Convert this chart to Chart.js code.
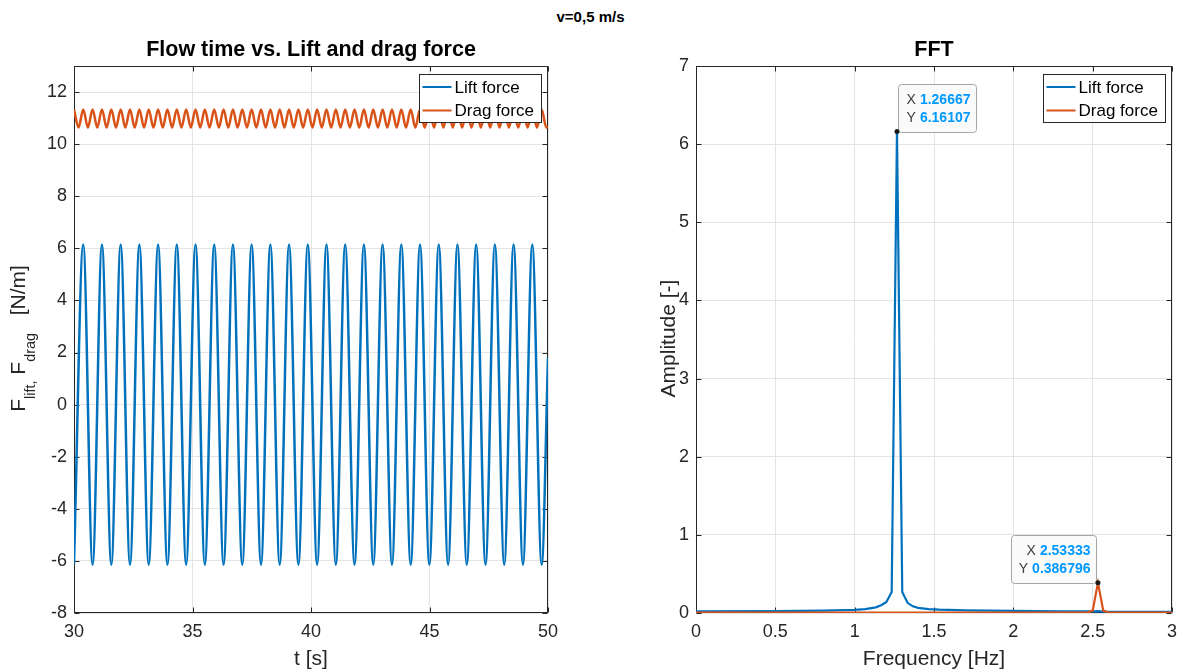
<!DOCTYPE html>
<html>
<head>
<meta charset="utf-8">
<script src="https://cdn.jsdelivr.net/npm/chart.js@4.4.1/dist/chart.umd.min.js"></script>
<style>
  html,body{margin:0;padding:0;background:#fff;}
  body{width:1181px;height:672px;position:relative;overflow:hidden;font-family:"Liberation Sans",Arial,Helvetica,sans-serif;}
  canvas{position:absolute;left:0;top:0;}
  #suptitle{position:absolute;left:0;top:8px;width:1181px;line-height:18px;text-align:center;font-weight:bold;font-size:15px;color:#000;}
</style>
</head>
<body>
<div id="suptitle">v=0,5 m/s</div>
<canvas id="timeChart" width="1181" height="672"></canvas>
<canvas id="fftChart" width="1181" height="672"></canvas>
<script>
const FONT = '"Liberation Sans", Arial, Helvetica, sans-serif';
const INK = '#262626';
const BLUE = '#0072BD', ORANGE = '#D95319';

// --- flow time signal, peaks / troughs ---
const liftTime = [30.000, 30.390, 30.784, 31.179, 31.574, 31.969, 32.363, 32.758, 33.153, 33.548,
  33.942, 34.337, 34.732, 35.127, 35.521, 35.916, 36.311, 36.706, 37.100, 37.495,
  37.890, 38.285, 38.679, 39.074, 39.469, 39.864, 40.258, 40.653, 41.048, 41.443,
  41.837, 42.232, 42.627, 43.021, 43.416, 43.811, 44.206, 44.600, 44.995, 45.390,
  45.785, 46.179, 46.574, 46.969, 47.364, 47.758, 48.153, 48.548, 48.943, 49.337,
  49.732, 50.000];
const liftForce = [-6.10,
  6.15, -6.15, 6.15, -6.15, 6.15, -6.15, 6.15, -6.15, 6.15, -6.15,
  6.15, -6.15, 6.15, -6.15, 6.15, -6.15, 6.15, -6.15, 6.15, -6.15,
  6.15, -6.15, 6.15, -6.15, 6.15, -6.15, 6.15, -6.15, 6.15, -6.15,
  6.15, -6.15, 6.15, -6.15, 6.15, -6.15, 6.15, -6.15, 6.15, -6.15,
  6.15, -6.15, 6.15, -6.15, 6.15, -6.15, 6.15, -6.15, 6.15, -6.15,
  1.80];

const dragTime = [30.000, 30.192, 30.390, 30.587, 30.784, 30.982, 31.179, 31.376, 31.574, 31.771,
  31.969, 32.166, 32.363, 32.561, 32.758, 32.955, 33.153, 33.350, 33.548, 33.745,
  33.942, 34.140, 34.337, 34.534, 34.732, 34.929, 35.127, 35.324, 35.521, 35.719,
  35.916, 36.113, 36.311, 36.508, 36.706, 36.903, 37.100, 37.298, 37.495, 37.692,
  37.890, 38.087, 38.285, 38.482, 38.679, 38.877, 39.074, 39.271, 39.469, 39.666,
  39.864, 40.061, 40.258, 40.456, 40.653, 40.850, 41.048, 41.245, 41.443, 41.640,
  41.837, 42.035, 42.232, 42.429, 42.627, 42.824, 43.021, 43.219, 43.416, 43.614,
  43.811, 44.008, 44.206, 44.403, 44.600, 44.798, 44.995, 45.192, 45.390, 45.587,
  45.785, 45.982, 46.179, 46.377, 46.574, 46.771, 46.969, 47.166, 47.364, 47.561,
  47.758, 47.956, 48.153, 48.350, 48.548, 48.745, 48.943, 49.140, 49.337, 49.535,
  49.732, 49.929, 50.000];
const dragForce = [
  11.33, 10.64, 11.33, 10.64, 11.33, 10.64, 11.33, 10.64, 11.33, 10.64,
  11.33, 10.64, 11.33, 10.64, 11.33, 10.64, 11.33, 10.64, 11.33, 10.64,
  11.33, 10.64, 11.33, 10.64, 11.33, 10.64, 11.33, 10.64, 11.33, 10.64,
  11.33, 10.64, 11.33, 10.64, 11.33, 10.64, 11.33, 10.64, 11.33, 10.64,
  11.33, 10.64, 11.33, 10.64, 11.33, 10.64, 11.33, 10.64, 11.33, 10.64,
  11.33, 10.64, 11.33, 10.64, 11.33, 10.64, 11.33, 10.64, 11.33, 10.64,
  11.33, 10.64, 11.33, 10.64, 11.33, 10.64, 11.33, 10.64, 11.33, 10.64,
  11.33, 10.64, 11.33, 10.64, 11.33, 10.64, 11.33, 10.64, 11.33, 10.64,
  11.33, 10.64, 11.33, 10.64, 11.33, 10.64, 11.33, 10.64, 11.33, 10.64,
  11.33, 10.64, 11.33, 10.64, 11.33, 10.64, 11.33, 10.64, 11.33, 10.64,
  11.33, 10.64, 10.67];

const timeTicks = [30, 35, 40, 45, 50];
const forceTicks = [-8, -6, -4, -2, 0, 2, 4, 6, 8, 10, 12];

// --- FFT ---
const liftFreq = [0, 0.5, 0.8, 1.0, 1.0667, 1.1333, 1.1667, 1.2, 1.2333, 1.26667, 1.3, 1.3333,
  1.3667, 1.4, 1.4667, 1.5333, 1.7, 2.0, 2.3, 2.5, 2.5333, 2.5667, 3.0];
const liftAmp = [0.02, 0.024, 0.03, 0.04, 0.05, 0.072, 0.10, 0.14, 0.27, 6.16107, 0.27, 0.13,
  0.085, 0.065, 0.05, 0.042, 0.033, 0.026, 0.022, 0.02, 0.024, 0.018, 0.015];
const dragFreq = [0, 2.4667, 2.5, 2.53333, 2.5667, 2.6, 3.0];
const dragAmp = [0.006, 0.006, 0.03, 0.386796, 0.03, 0.006, 0.005];

const freqTicks = [0, 0.5, 1, 1.5, 2, 2.5, 3];
const ampTicks = [0, 1, 2, 3, 4, 5, 6, 7];

const seriesNames = ['Lift force', 'Drag force'];
const dataTips = [
  { x: 1.26667, y: 6.16107, xs: '1.26667', ys: '6.16107', side: 'right', w: 78 },
  { x: 2.53333, y: 0.386796, xs: '2.53333', ys: '0.386796', side: 'left', w: 85 }
];

const pts = (xs, ys) => xs.map((v, i) => ({ x: v, y: ys[i] }));

// MATLAB-ish box + inward ticks under the data, legend / labels / tips over it
const matlabAxes = {
  id: 'matlabAxes',
  beforeDatasetsDraw(chart) {
    const { ctx, chartArea: a, scales: { x, y } } = chart;
    const L = Math.round(a.left) + 0.5, R = Math.round(a.right) - 0.5;
    const T = Math.round(a.top) + 0.5, B = Math.round(a.bottom) - 0.5;
    ctx.save();
    ctx.strokeStyle = INK; ctx.lineWidth = 1;
    ctx.strokeRect(L, T, R - L, B - T);
    ctx.beginPath();
    x.ticks.forEach(t => {
      const p = Math.round(x.getPixelForValue(t.value)) + 0.5;
      ctx.moveTo(p, B); ctx.lineTo(p, B - 5); ctx.moveTo(p, T); ctx.lineTo(p, T + 5);
    });
    y.ticks.forEach(t => {
      const p = Math.round(y.getPixelForValue(t.value)) + 0.5;
      ctx.moveTo(L, p); ctx.lineTo(L + 5, p); ctx.moveTo(R, p); ctx.lineTo(R - 5, p);
    });
    ctx.stroke();
    ctx.restore();
  },
  afterDatasetsDraw(chart, args, o) {
    const { ctx, chartArea: a, scales: { x, y } } = chart;
    ctx.save();

    // title + x label
    ctx.fillStyle = '#000';
    ctx.textAlign = 'center'; ctx.textBaseline = 'middle';
    ctx.font = 'bold 21.5px ' + FONT;
    ctx.fillText(o.title, (a.left + a.right) / 2, 50);
    ctx.fillStyle = INK;
    ctx.font = '21px ' + FONT;
    ctx.fillText(o.xlabel, (a.left + a.right) / 2, 659);

    // y label (segments, subscripts lowered)
    ctx.save();
    ctx.translate(o.ylabelX, (a.top + a.bottom) / 2 - 1);
    ctx.rotate(-Math.PI / 2);
    ctx.textAlign = 'left'; ctx.textBaseline = 'alphabetic';
    const segFont = s => (s.sub ? '14.5px ' : '21px ') + FONT;
    let total = 0;
    o.ylabel.forEach(s => { ctx.font = segFont(s); total += ctx.measureText(s.t).width; });
    let cx = -total / 2;
    o.ylabel.forEach(s => {
      ctx.font = segFont(s);
      ctx.fillText(s.t, cx, s.sub ? 10 : 0);
      cx += ctx.measureText(s.t).width;
    });
    ctx.restore();

    // legend
    const lw = 122, lh = 48;
    const lx = Math.round(a.right) - 7 - lw + 0.5, ly = Math.round(a.top) + 8 + 0.5;
    ctx.fillStyle = '#fff'; ctx.fillRect(lx, ly, lw, lh);
    ctx.strokeStyle = INK; ctx.lineWidth = 1; ctx.strokeRect(lx, ly, lw, lh);
    ctx.font = '17px ' + FONT; ctx.textAlign = 'left'; ctx.textBaseline = 'middle';
    chart.data.datasets.forEach((ds, i) => {
      const ry = ly + 12.5 + i * 23.5;
      ctx.strokeStyle = ds.borderColor; ctx.lineWidth = 2;
      ctx.beginPath(); ctx.moveTo(lx + 3, ry); ctx.lineTo(lx + 32, ry); ctx.stroke();
      ctx.fillStyle = '#000';
      ctx.fillText(ds.label, lx + 35, ry + 1);
    });

    // data tips
    (o.tips || []).forEach(tip => {
      const px = x.getPixelForValue(tip.x), py = y.getPixelForValue(tip.y);
      const h = 48;
      const bx = tip.side === 'right' ? Math.round(px) + 1.5 : Math.round(px) - 1.5 - tip.w;
      const by = Math.round(py) - h + 0.5;
      ctx.beginPath();
      ctx.roundRect(bx, by, tip.w, h, 3);
      ctx.fillStyle = '#fafafa'; ctx.fill();
      ctx.strokeStyle = '#a6a6a6'; ctx.lineWidth = 1; ctx.stroke();
      ctx.textAlign = 'right'; ctx.textBaseline = 'middle';
      [['X', tip.xs, 16], ['Y', tip.ys, 34]].forEach(([lab, val, dy]) => {
        const rx = bx + tip.w - 6;
        ctx.font = 'bold 14px ' + FONT; ctx.fillStyle = '#0099ff';
        ctx.fillText(val, rx, by + dy);
        const vw = ctx.measureText(val).width;
        ctx.font = '14px ' + FONT; ctx.fillStyle = '#404040';
        ctx.fillText(lab, rx - vw - 4, by + dy);
      });
      ctx.beginPath(); ctx.arc(px, py, 2.5, 0, Math.PI * 2);
      ctx.fillStyle = '#1a1a1a'; ctx.fill();
    });
    ctx.restore();
  }
};

function axisOpts(min, max, ticks, fit, pad) {
  return {
    type: 'linear', min, max,
    afterFit: fit,
    afterBuildTicks: s => { s.ticks = ticks.map(v => ({ value: v })); },
    grid: { color: '#e4e4e4', lineWidth: 1, drawTicks: false },
    border: { display: false },
    ticks: { padding: pad, color: INK, font: { family: FONT, size: 18 }, maxRotation: 0, autoSkip: false,
             callback: v => String(v) }
  };
}

// fixed scale boxes so the plot area sits exactly where the padding puts it
const fixX = s => { s.height = 50; s.paddingLeft = 0; s.paddingRight = 0; };
const fixY = s => { s.width = 40; s.paddingTop = 0; s.paddingBottom = 0; };

function makeChart(id, cfg) {
  return new Chart(document.getElementById(id), {
    type: 'line',
    data: { datasets: cfg.datasets },
    options: {
      responsive: false, animation: false, devicePixelRatio: 1, events: [],
      layout: { padding: cfg.padding },
      elements: { point: { radius: 0 } },
      plugins: { legend: { display: false }, tooltip: { enabled: false }, matlabAxes: cfg.axes },
      scales: {
        x: axisOpts(cfg.xMin, cfg.xMax, cfg.xTicks, fixX, 8),
        y: axisOpts(cfg.yMin, cfg.yMax, cfg.yTicks, fixY, 7)
      }
    },
    plugins: [matlabAxes]
  });
}

makeChart('timeChart', {
  datasets: [
    { label: seriesNames[0], data: pts(liftTime, liftForce), borderColor: BLUE, borderWidth: 2.5, cubicInterpolationMode: 'monotone', order: 1 },
    { label: seriesNames[1], data: pts(dragTime, dragForce), borderColor: ORANGE, borderWidth: 2.5, cubicInterpolationMode: 'monotone', order: 0 }
  ],
  xMin: 30, xMax: 50, xTicks: timeTicks,
  yMin: -8, yMax: 13, yTicks: forceTicks,
  padding: { left: 34, right: 633, top: 66, bottom: 9 },
  axes: {
    title: 'Flow time vs. Lift and drag force', xlabel: 't [s]', ylabelX: 25,
    ylabel: [{ t: 'F' }, { t: 'lift,', sub: true }, { t: ' F' }, { t: 'drag', sub: true }, { t: '   [N/m]' }]
  }
});

makeChart('fftChart', {
  datasets: [
    { label: seriesNames[0], data: pts(liftFreq, liftAmp), borderColor: BLUE, borderWidth: 2.2, order: 1 },
    { label: seriesNames[1], data: pts(dragFreq, dragAmp), borderColor: ORANGE, borderWidth: 2.2, order: 0 }
  ],
  xMin: 0, xMax: 3, xTicks: freqTicks,
  yMin: 0, yMax: 7, yTicks: ampTicks,
  padding: { left: 656, right: 9, top: 66, bottom: 9 },
  axes: {
    title: 'FFT', xlabel: 'Frequency [Hz]', ylabelX: 675,
    ylabel: [{ t: 'Amplitude [-]' }],
    tips: dataTips
  }
});
</script>
</body>
</html>
